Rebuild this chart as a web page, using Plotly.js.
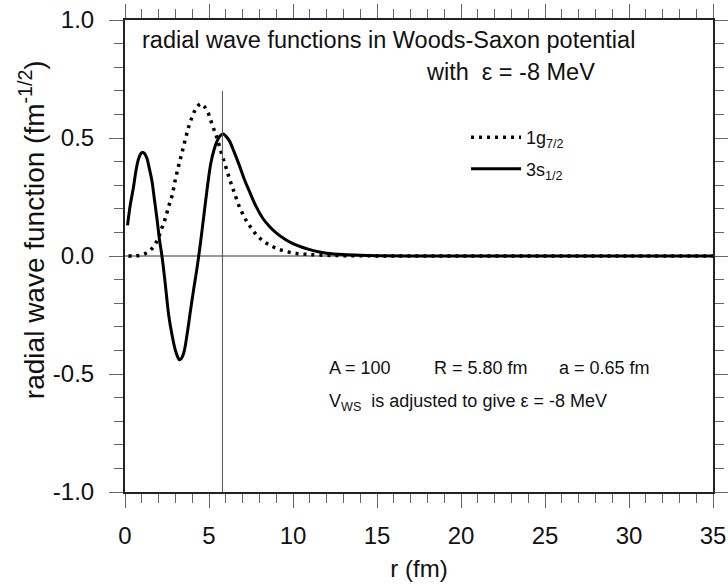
<!DOCTYPE html>
<html>
<head>
<meta charset="utf-8">
<script src="https://cdn.plot.ly/plotly-3.0.1.min.js"></script>
<style>html,body{margin:0;padding:0;background:#fff;}#chart{width:728px;height:588px;}</style>
</head>
<body>
<div id="chart"></div>
<script>
// 3s1/2 (solid)
const r3s = [0.15,0.3,0.5,0.65,0.8,0.95,1.05,1.15,1.3,1.45,1.6,1.75,1.9,2.05,2.2,2.4,2.6,2.8,3.0,3.15,3.25,3.35,3.5,3.7,3.9,4.1,4.3,4.5,4.7,4.9,5.1,5.3,5.5,5.7,5.85,6.0,6.2,6.5,6.8,7.1,7.4,7.8,8.2,8.6,9.0,9.5,10,10.5,11,11.5,12,13,14,15,17,20,25,30,35];
const v3s = [0.13,0.21,0.29,0.36,0.41,0.435,0.44,0.435,0.415,0.37,0.32,0.24,0.16,0.07,0.0,-0.12,-0.25,-0.335,-0.40,-0.43,-0.44,-0.435,-0.41,-0.33,-0.23,-0.135,-0.045,0.06,0.175,0.29,0.39,0.45,0.49,0.512,0.517,0.508,0.49,0.44,0.385,0.325,0.275,0.21,0.16,0.125,0.098,0.072,0.052,0.038,0.027,0.018,0.012,0.006,0.003,0.0015,0,0,0,0,0];
// 1g7/2 (dotted)
const r1g = [0.2,0.5,0.9,1.2,1.5,1.8,2.0,2.2,2.4,2.6,2.8,3.0,3.2,3.4,3.6,3.8,4.0,4.2,4.4,4.55,4.7,4.9,5.1,5.3,5.5,5.7,5.9,6.1,6.3,6.5,6.8,7.1,7.4,7.8,8.2,8.6,9.0,9.6,10.2,10.8,11.5,12.5,14,16,20,25,30,35];
const v1g = [0.0,0.0,0.003,0.01,0.024,0.05,0.08,0.12,0.16,0.21,0.255,0.325,0.385,0.44,0.497,0.55,0.59,0.622,0.64,0.645,0.635,0.615,0.575,0.535,0.495,0.445,0.40,0.355,0.31,0.27,0.21,0.165,0.13,0.092,0.065,0.047,0.033,0.019,0.011,0.007,0.004,0.002,0.001,0,0,0,0,0];
const R_WS = 5.80;      // Woods-Saxon radius marker
const markerTop = 0.7;  // top of the vertical marker line
const xTicks = [0,5,10,15,20,25,30,35];
const yTicks = [-1.0,-0.5,0.0,0.5,1.0];
const yTickText = ['-1.0','-0.5','0.0','0.5','1.0'];

const F = 'Liberation Sans, Arial, Helvetica, sans-serif';

const traces = [
  {x: r1g, y: v1g, mode: 'lines', name: '1g<sub>7/2</sub>', legendgroup: 'a',
   line: {color: '#000', width: 3.5, dash: '3px,5px', shape: 'spline'}},
  {x: r3s, y: v3s, mode: 'lines', name: '3s<sub>1/2</sub>', legendgroup: 'b',
   line: {color: '#000', width: 3, shape: 'spline'}}
];

const axisCommon = {
  showline: true, linecolor: '#222', linewidth: 2, mirror: 'allticks',
  ticks: 'outside', ticklen: 14, tickwidth: 1, tickcolor: '#666',
  showgrid: false, tickfont: {family: F, size: 24, color: '#111'}
};

const layout = {
  width: 728, height: 588,
  margin: {l: 125, r: 15, t: 20, b: 96},
  paper_bgcolor: '#fff', plot_bgcolor: '#fff',
  showlegend: true,
  legend: {x: 0.58, y: 0.79, xanchor: 'left', yanchor: 'top', bgcolor: 'rgba(0,0,0,0)',
           font: {family: F, size: 18, color: '#111'}, traceorder: 'grouped', tracegroupgap: 5, itemwidth: 50},
  xaxis: Object.assign({}, axisCommon, {
    range: [0, 35], tickvals: xTicks, ticktext: xTicks.map(String), zeroline: false,
    ticklabelstandoff: 7,
    minor: {dtick: 1, ticklen: 9, tickcolor: '#666', ticks: 'outside', showgrid: false},
    title: {text: 'r (fm)', font: {family: F, size: 24, color: '#111'}, standoff: 12}
  }),
  yaxis: Object.assign({}, axisCommon, {
    range: [-1, 1], tickvals: yTicks, ticktext: yTickText,
    zeroline: true, zerolinecolor: '#999', zerolinewidth: 1.5,
    ticklabelstandoff: 10,
    minor: {dtick: 0.1, ticklen: 9, tickcolor: '#666', ticks: 'outside', showgrid: false}
  }),
  shapes: [
    {type: 'line', xref: 'x', yref: 'y', x0: R_WS, x1: R_WS, y0: -1, y1: markerTop,
     line: {color: '#555', width: 1}}
  ],
  annotations: [
    {xref: 'paper', yref: 'paper', x: 0.026, y: 0.9576, xanchor: 'left', yanchor: 'middle', showarrow: false,
     text: 'radial wave functions in Woods-Saxon potential', font: {family: F, size: 23.5, color: '#111'}},
    {xref: 'paper', yref: 'paper', x: 0.508, y: 0.8898, xanchor: 'left', yanchor: 'middle', showarrow: false,
     text: 'with  \u03b5 = -8 MeV', font: {family: F, size: 23.5, color: '#111'}},
    {xref: 'paper', yref: 'paper', x: 0.3435, y: 0.2627, xanchor: 'left', yanchor: 'middle', showarrow: false,
     text: 'A = 100', font: {family: F, size: 18, color: '#111'}},
    {xref: 'paper', yref: 'paper', x: 0.5216, y: 0.2627, xanchor: 'left', yanchor: 'middle', showarrow: false,
     text: 'R = 5.80 fm', font: {family: F, size: 18, color: '#111'}},
    {xref: 'paper', yref: 'paper', x: 0.734, y: 0.2627, xanchor: 'left', yanchor: 'middle', showarrow: false,
     text: 'a = 0.65 fm', font: {family: F, size: 18, color: '#111'}},
    {xref: 'paper', yref: 'paper', x: 0.3435, y: 0.1886, xanchor: 'left', yanchor: 'middle', showarrow: false,
     text: 'V<sub>WS</sub>  is adjusted to give \u03b5 = -8 MeV', font: {family: F, size: 18, color: '#111'}},
    {xref: 'paper', yref: 'paper', x: -0.158, y: 0.555, xanchor: 'center', yanchor: 'middle', showarrow: false,
     textangle: -90, text: 'radial wave function (fm<sup>-1/2</sup>)', font: {family: F, size: 28, color: '#111'}}
  ]
};

Plotly.newPlot('chart', traces, layout, {staticPlot: true, displayModeBar: false});
</script>
</body>
</html>
